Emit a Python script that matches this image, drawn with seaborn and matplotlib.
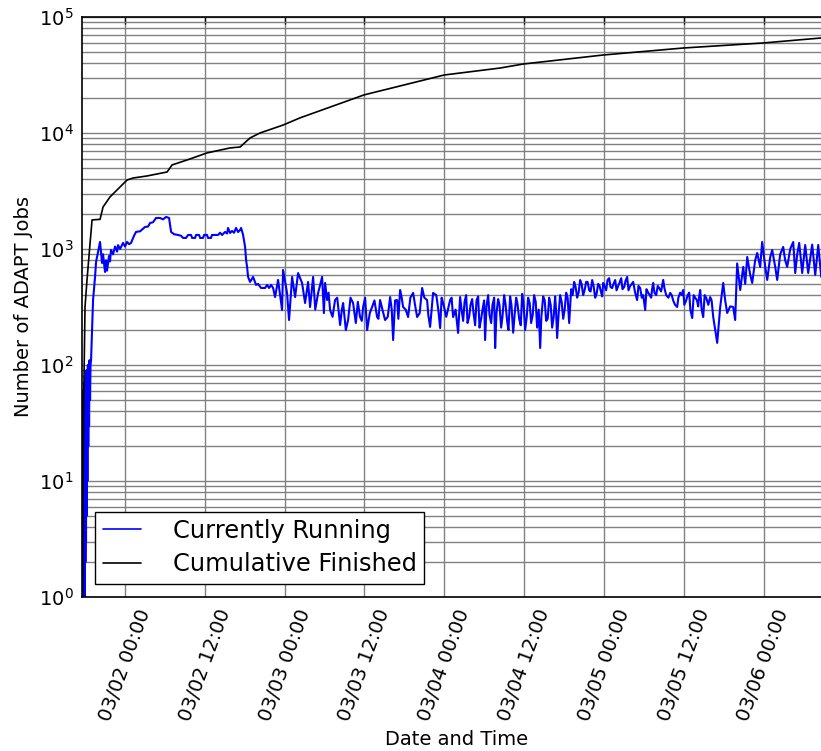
import seaborn as sns
import matplotlib.pyplot as plt
import matplotlib.dates as mdates
from matplotlib.ticker import LogLocator
import pandas as pd
import numpy as np

# -----------------------------
# Data (hours relative to 03/02 00:00, job counts)
# -----------------------------
running_hours = [
    -6.32, -6.29, -6.23, -6.17, -6.14, -6.09, -6.05, -6.00, -5.96, -5.91,
    -5.87, -5.82, -5.78, -5.72, -5.66, -5.59, -5.53, -5.47, -5.41, -5.34,
    -5.26, -5.19, -5.11, -4.81, -4.51, -4.36, -4.06, -3.76, -3.46, -3.31,
    -3.01, -2.86, -2.71, -2.56, -2.41, -2.26, -2.11, -1.80, -1.50, -1.20,
    -1.05, -0.75, -0.30, 0.00, 0.30, 0.60, 0.90, 1.35, 1.65, 2.26,
    3.01, 3.46, 3.76, 4.21, 4.66, 5.26, 5.72, 6.17, 6.62, 6.92,
    7.37, 7.97, 8.42, 8.72, 9.17, 9.48, 9.93, 10.08, 10.53, 10.68,
    11.13, 11.28, 11.73, 11.88, 12.33, 12.48, 12.93, 13.08, 13.54, 13.99,
    14.29, 14.59, 15.04, 15.34, 15.49, 15.79, 16.09, 16.39, 16.69, 17.00,
    17.30, 17.45, 17.75, 18.05, 18.20, 18.35, 18.50, 18.80, 19.25, 19.70,
    20.00, 20.45, 21.06, 21.36, 21.66, 21.96, 22.26, 22.56, 23.01, 23.61,
    23.76, 24.36, 24.66, 25.12, 25.57, 26.02, 26.62, 27.07, 27.52, 27.82,
    28.28, 29.03, 29.63, 30.08, 30.38, 30.83, 31.58, 32.34, 32.79, 33.54,
    34.29, 35.34, 35.80, 36.40, 37.15, 37.90, 38.35, 39.10, 39.86, 40.31,
    40.91, 41.36, 41.81, 42.56, 43.32, 43.92, 44.67, 45.42, 45.87, 46.32,
    47.38, 47.83, 48.88, 49.33, 50.08, 50.38, 50.84, 51.29, 51.74, 52.19,
    52.64, 53.09, 53.54, 53.99, 54.14, 54.60, 55.05, 55.50, 55.65, 56.10,
    56.55, 57.00, 57.45, 57.90, 58.36, 58.81, 59.26, 59.71, 60.16, 60.61,
    61.06, 61.51, 61.96, 62.42, 62.87, 63.32, 63.77, 64.22, 64.67, 64.97,
    65.42, 65.88, 66.33, 66.78, 67.08, 67.53, 67.98, 68.43, 68.88, 69.33,
    69.79, 70.24, 70.69, 71.14, 71.59, 71.89, 72.34, 72.79, 73.24, 73.70,
    74.15, 74.60, 75.05, 75.50, 75.95, 76.40, 77.00, 77.46, 77.91, 78.21,
    78.66, 79.11, 79.41, 79.86, 80.31, 80.92, 81.37, 81.97, 82.42, 83.02,
    83.47, 83.92, 84.37, 84.83, 85.28, 85.73, 86.18, 86.48, 86.93, 87.38,
    87.98, 88.44, 88.74, 89.04, 89.34, 89.49, 89.94, 90.24, 90.54, 90.99,
    91.44, 91.74, 92.04, 92.50, 92.95, 93.25, 93.55, 94.00, 94.30, 94.75,
    95.05, 95.50, 95.80, 96.26, 96.56, 97.01, 97.31, 97.76, 98.06, 98.51,
    98.96, 99.26, 99.56, 100.02, 100.47, 100.77, 101.07, 101.37, 101.82, 102.27,
    102.72, 103.32, 103.78, 104.23, 104.68,
]
running_jobs = [
    1, 60, 1, 70, 1, 50, 1, 80, 2, 60,
    3, 90, 5, 70, 10, 100, 20, 90, 30, 110,
    50, 100, 110, 363, 574, 773, 942, 1149, 757, 900,
    634, 800, 650, 757, 870, 780, 980, 900, 1050, 950,
    1080, 1000, 1127, 1050, 1150, 1100, 1127, 1300, 1403, 1420,
    1548, 1560, 1675, 1700, 1850, 1850, 1800, 1888, 1850, 1403,
    1340, 1321, 1300, 1245, 1245, 1321, 1321, 1245, 1245, 1321,
    1321, 1245, 1245, 1321, 1321, 1245, 1245, 1321, 1321, 1321,
    1380, 1320, 1403, 1360, 1518, 1374, 1430, 1380, 1518, 1400,
    1459, 1518, 1321, 1041, 804, 700, 574, 520, 574, 490,
    500, 461, 461, 490, 461, 490, 461, 385, 541, 298,
    659, 418, 244, 574, 385, 620, 509, 342, 520, 316,
    574, 418, 574, 509, 363, 298, 363, 221, 342, 244,
    342, 259, 316, 200, 316, 259, 363, 244, 385, 164,
    363, 443, 316, 259, 418, 259, 461, 363, 213, 418,
    208, 342, 363, 259, 189, 385, 240, 400, 260, 370,
    220, 390, 250, 360, 164, 400, 230, 380, 140, 370,
    210, 400, 240, 390, 190, 380, 250, 410, 200, 380,
    230, 400, 210, 140, 390, 240, 380, 210, 390, 171,
    400, 250, 420, 230, 450, 520, 380, 540, 400, 520,
    440, 540, 380, 500, 420, 509, 440, 560, 460, 540,
    480, 560, 470, 574, 480, 520, 363, 460, 400, 298,
    420, 380, 509, 400, 460, 541, 400, 418, 360, 316,
    420, 443, 360, 420, 254, 380, 320, 443, 259, 380,
    385, 259, 200, 155, 250, 316, 509, 360, 281, 320,
    316, 244, 750, 443, 700, 500, 853, 600, 509, 800,
    924, 700, 1149, 700, 541, 850, 980, 700, 541, 900,
    1041, 800, 700, 1000, 1149, 621, 900, 1127, 621, 1082,
    621, 1090, 597, 1082, 574,
]

# extra readings inside the dense, noisy stretch (03/03 - 03/05)
running_extra_hours = [
    28.6, 29.3, 29.9, 30.6, 31.2, 31.9, 32.6, 33.2, 33.9, 34.7,
    35.0, 35.6, 36.1, 36.8, 37.5, 38.1, 38.7, 39.5, 40.1, 40.6,
    41.1, 41.6, 42.2, 42.9, 43.6, 44.3, 45.0, 45.6, 46.1, 46.8,
    47.1, 47.6, 48.3, 49.1, 49.7, 50.6, 51.05, 51.5, 51.95, 52.4,
    52.85, 53.3, 53.75, 54.35, 54.8, 55.25, 55.85, 56.3, 56.75, 57.2,
    57.65, 58.1, 58.6, 59.0, 59.5, 59.9, 60.4, 60.85, 61.3, 61.75,
    62.2, 62.6, 63.1, 63.55, 64.0, 64.45, 64.8, 65.2, 65.65, 66.1,
    66.55, 67.3, 67.75, 68.2, 68.65, 69.1, 69.55, 70.0, 70.45, 70.9,
    71.35, 71.75, 72.1, 72.55, 73.0, 73.45, 73.9, 74.4, 74.8, 75.25,
    75.7, 76.2, 76.7, 77.2, 77.7, 78.4, 78.9, 79.25, 79.6, 80.1,
    80.6, 81.1, 81.7, 82.2, 82.7, 83.2, 83.7, 84.1, 84.6, 85.0,
    85.5, 86.0, 86.3, 86.7, 87.15, 87.7, 88.2,
]
running_extra_jobs = [
    300, 480, 280, 420, 260, 380, 300, 200, 380, 230,
    350, 240, 380, 280, 360, 250, 300, 260, 300, 360,
    250, 380, 300, 380, 330, 280, 380, 270, 300, 400,
    300, 380, 260, 380, 300, 300, 350, 230, 330, 280,
    360, 210, 300, 320, 270, 330, 280, 330, 260, 340,
    200, 330, 280, 340, 220, 350, 260, 340, 270, 350,
    300, 260, 360, 250, 330, 260, 300, 280, 350, 300,
    380, 400, 470, 420, 500, 440, 520, 430, 480, 410,
    480, 390, 480, 540, 470, 500, 440, 520, 450, 530,
    440, 500, 420, 480, 380, 450, 400, 450, 420, 480,
    430, 460, 380, 400, 330, 380, 400, 330, 400, 300,
    400, 360, 380, 300, 400, 330, 360,
]

finished_hours = [
    -6.39, -6.32, -6.24, -6.02, -5.72, -5.26, -4.96, -3.76, -3.31, -2.26,
    -1.20, 0.30, 1.20, 3.31, 6.32, 7.07, 9.32, 12.33, 15.79, 17.30,
    18.80, 20.30, 23.76, 26.32, 35.95, 47.98, 56.40, 59.86, 71.89, 83.92,
    95.96, 104.68,
]
finished_jobs = [
    1, 10, 40, 316, 540, 1120, 1780, 1800, 2300, 2810,
    3230, 3930, 4090, 4260, 4610, 5300, 5850, 6730, 7430, 7570,
    9060, 10000, 11700, 13500, 21300, 31600, 36300, 39300, 47000, 54000,
    59700, 65900,
]

series_names = ["Currently Running", "Cumulative Finished"]
base_time = pd.Timestamp("2015-03-02 00:00")

running = pd.DataFrame({
    "Hours": running_hours + running_extra_hours,
    "Jobs": running_jobs + running_extra_jobs,
}).sort_values("Hours")
running["Time"] = base_time + pd.to_timedelta(running["Hours"], unit="h")
finished = pd.DataFrame({"Hours": finished_hours, "Jobs": finished_jobs})
finished["Time"] = base_time + pd.to_timedelta(finished["Hours"], unit="h")

# -----------------------------
# Plot
# -----------------------------
sns.set_style("white")
plt.rcParams["font.family"] = ["DejaVu Sans"]
plt.rcParams["text.color"] = "black"
plt.rcParams["axes.labelcolor"] = "black"
plt.rcParams["xtick.color"] = "black"
plt.rcParams["ytick.color"] = "black"
plt.rcParams["xtick.direction"] = "in"
plt.rcParams["ytick.direction"] = "in"

fig = plt.figure(figsize=(8.21, 7.51), dpi=100)
ax = fig.add_axes([0.0999, 0.2051, 0.9135, 0.7723])

sns.lineplot(data=running, x="Time", y="Jobs", color="#0000ff", estimator=None,
             sort=False, linewidth=1.5, label=series_names[0], ax=ax)
sns.lineplot(data=finished, x="Time", y="Jobs", color="black", estimator=None,
             sort=False, linewidth=1.2, label=series_names[1], ax=ax)

ax.set_yscale("log")
ax.set_ylim(1, 1e5)
ax.set_xlim(base_time + pd.Timedelta(hours=-6.47), base_time + pd.Timedelta(hours=106.3))
ax.yaxis.set_major_locator(LogLocator(base=10))
ax.yaxis.set_minor_locator(LogLocator(base=10, subs=np.arange(2, 10)))

ax.xaxis.set_major_locator(mdates.HourLocator(byhour=[0, 12]))
ax.xaxis.set_major_formatter(mdates.DateFormatter("%m/%d %H:%M"))

ax.grid(True, which="major", color="#808080", linestyle="-", linewidth=1.0)
ax.grid(True, which="minor", axis="y", color="#808080", linestyle="-", linewidth=1.0)
ax.set_axisbelow(True)

ax.tick_params(which="both", top=True, right=True, direction="in", color="black")
ax.tick_params(which="major", length=5, width=1)
ax.tick_params(which="minor", length=3, width=0.8)
ax.tick_params(axis="x", labelsize=14, rotation=70, pad=7, labelcolor="black")
ax.tick_params(axis="y", labelsize=14, pad=6, labelcolor="black")
for spine in ax.spines.values():
    spine.set_color("black")
    spine.set_linewidth(1.2)

ax.set_xlabel("Date and Time", fontsize=14)
ax.set_ylabel("Number of ADAPT Jobs", fontsize=14)

leg = ax.legend(loc="lower left", fontsize=17.4, fancybox=False, edgecolor="black",
                framealpha=1, handlelength=1.6, handletextpad=1.3,
                borderpad=0.3, labelspacing=0.4, borderaxespad=0.55)
leg.get_frame().set_linewidth(1.0)
for line in leg.get_lines():
    line.set_linewidth(1.2)

plt.savefig("out.png", dpi=100)
plt.close()
